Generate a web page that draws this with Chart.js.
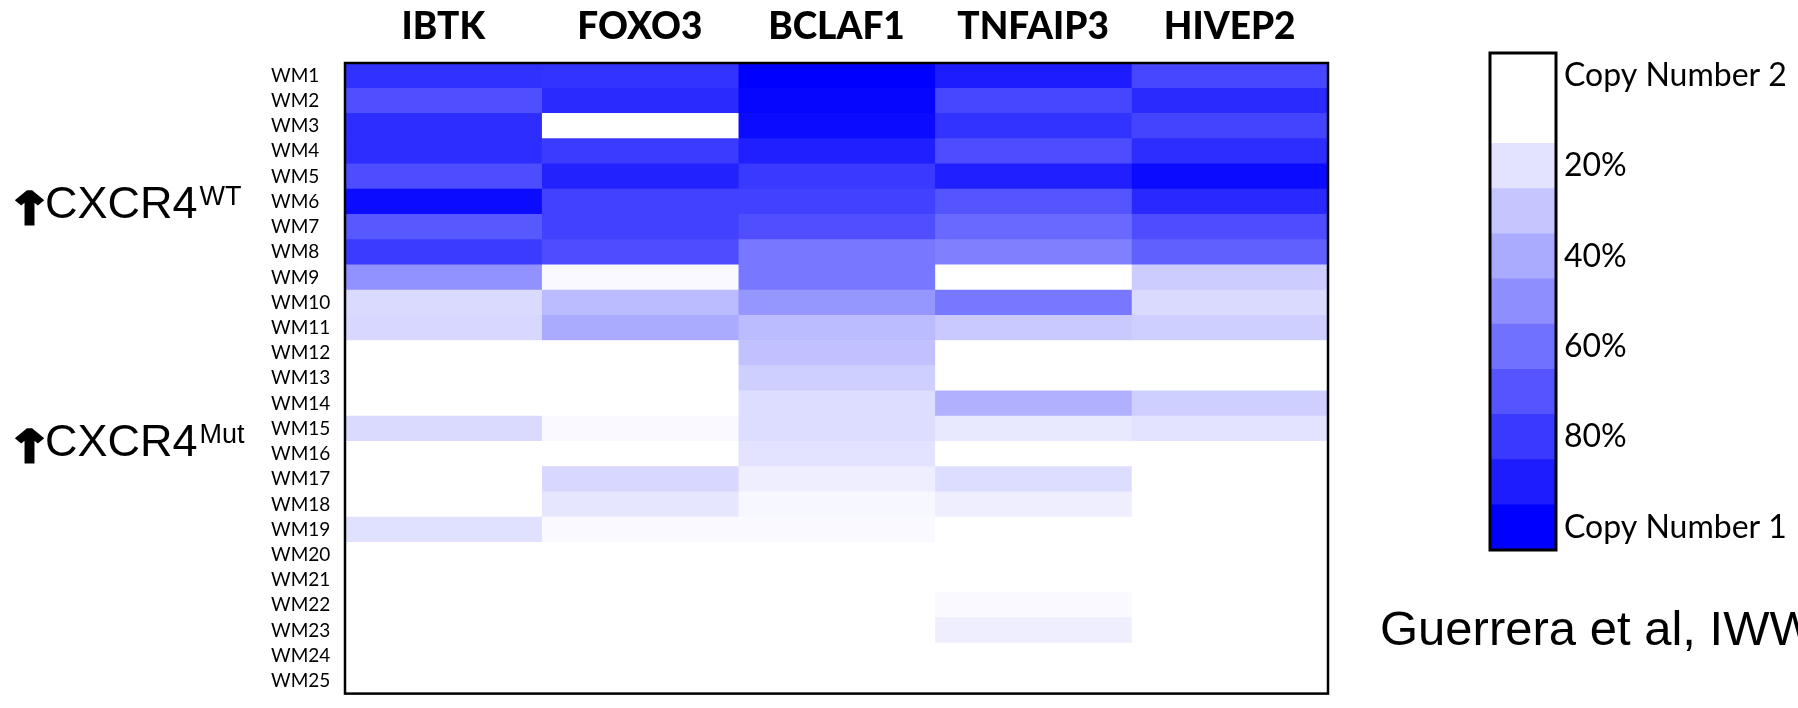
<!DOCTYPE html>
<html>
<head>
<meta charset="utf-8">
<title>Copy number loss heatmap</title>
<script src="https://cdn.jsdelivr.net/npm/chart.js@4.4.0/dist/chart.umd.min.js"></script>
<style>
  html, body { margin: 0; padding: 0; background: #ffffff; }
  #wrap { position: relative; width: 1798px; height: 708px; overflow: hidden; }
  #heat { position: absolute; left: 0; top: 0; }
  #scale { position: absolute; left: 1340px; top: 0; }
</style>
</head>
<body>
<div id="wrap">
  <canvas id="heat" width="1340" height="708"></canvas>
  <canvas id="scale" width="458" height="708"></canvas>
</div>
<script>
// Samples (rows) and genes (columns)
const samples = ['WM1','WM2','WM3','WM4','WM5','WM6','WM7','WM8','WM9','WM10','WM11','WM12','WM13',
                 'WM14','WM15','WM16','WM17','WM18','WM19','WM20','WM21','WM22','WM23','WM24','WM25'];
const genes = ['IBTK', 'FOXO3', 'BCLAF1', 'TNFAIP3', 'HIVEP2'];

// Percent of cells with loss (copy number 2 -> 1), one value per sample
const ibtk    = [83, 72, 84, 84, 73, 96, 69, 79, 49, 23, 24, 0, 0, 0, 23, 0, 0, 0, 21, 0, 0, 0, 0, 0, 0];
const foxo3   = [82, 85, 0, 79, 88, 77, 77, 73, 12, 34, 40, 0, 0, 0, 12, 0, 24, 19, 12, 0, 0, 0, 0, 0, 0];
const bclaf1  = [100, 98, 96, 89, 80, 77, 72, 58, 58, 47, 34, 32, 27, 22, 22, 20, 16, 13, 12, 0, 0, 0, 0, 0, 0];
const tnfaip3 = [90, 75, 82, 73, 89, 70, 63, 55, 0, 58, 29, 0, 0, 38, 18, 0, 22, 16, 0, 0, 0, 12, 16, 0, 0];
const hivep2  = [75, 85, 76, 84, 96, 86, 73, 66, 28, 23, 27, 0, 0, 27, 20, 0, 0, 0, 0, 0, 0, 0, 0, 0, 0];
const geneValues = [ibtk, foxo3, bclaf1, tnfaip3, hivep2];

// Colour-scale steps and their labels (top to bottom)
const scaleLevels = [0, 10, 20, 30, 40, 50, 60, 70, 80, 90, 100];
const scaleLabels = ['Copy Number 2', '', '20%', '', '40%', '', '60%', '', '80%', '', 'Copy Number 1'];

// Sample groups shown at the left
const groups = [
  { name: 'CXCR4', sup: 'WT',  row: 5 },
  { name: 'CXCR4', sup: 'Mut', row: 14.45 }
];

const citation = 'Guerrera et al, IWW';

// white (no loss) -> pure blue (full loss)
function shade(p) {
  const t = p <= 10 ? 0 : Math.min(1, (p - 10) / 90);
  const v = Math.round(255 * (1 - t));
  return 'rgb(' + v + ',' + v + ',255)';
}

const frame = (width) => ({
  id: 'frame',
  afterDatasetsDraw(chart) {
    const a = chart.chartArea, ctx = chart.ctx;
    ctx.save();
    ctx.strokeStyle = '#000';
    ctx.lineWidth = width;
    ctx.strokeRect(a.left, a.top, a.right - a.left, a.bottom - a.top);
    ctx.restore();
  }
});

const groupLabels = {
  id: 'groupLabels',
  afterDraw(chart) {
    const ctx = chart.ctx, y = chart.scales.y;
    ctx.save();
    ctx.fillStyle = '#000';
    ctx.strokeStyle = '#000';
    ctx.textBaseline = 'alphabetic';
    ctx.textAlign = 'left';
    groups.forEach(g => {
      const yc = y.getPixelForValue(g.row);
      const base = yc + 16;
      // heavy up-arrow, slightly widened
      ctx.save();
      ctx.translate(7, base + 6);
      ctx.scale(1.22, 1);
      ctx.font = 'bold 44px "DejaVu Sans"';
      ctx.lineWidth = 3;
      ctx.fillText('\u2191', 0, 0);
      ctx.strokeText('\u2191', 0, 0);
      ctx.restore();
      ctx.font = '45px "Liberation Sans"';
      ctx.fillText(g.name, 45, base);
      const w = ctx.measureText(g.name).width;
      ctx.font = '27px "Liberation Sans"';
      ctx.fillText(g.sup, 45 + w + 2, base - 13);
    });
    ctx.restore();
  }
};

new Chart(document.getElementById('heat'), {
  type: 'bar',
  data: {
    labels: samples,
    datasets: genes.map((g, i) => ({
      label: g,
      data: samples.map(() => 1),
      backgroundColor: geneValues[i].map(shade),
      borderWidth: 0,
      barPercentage: 1,
      categoryPercentage: 1
    }))
  },
  options: {
    indexAxis: 'y',
    responsive: false,
    animation: false,
    devicePixelRatio: 1,
    layout: { padding: { left: 271, right: 12, top: 0, bottom: 8 } },
    plugins: { legend: { display: false }, tooltip: { enabled: false } },
    scales: {
      x: { type: 'linear', stacked: true, min: 0, max: genes.length, display: false },
      xTop: {
        type: 'category', axis: 'x', position: 'top', labels: genes, offset: true,
        grid: { display: false, drawTicks: false }, border: { display: false },
        ticks: { color: '#000', padding: 14, font: { family: 'Lato', weight: 900, size: 37 } },
        afterFit(s) { s.height = 63; }
      },
      y: {
        type: 'category', stacked: true, position: 'left',
        grid: { display: false, drawTicks: false }, border: { display: false },
        ticks: { color: '#000', crossAlign: 'far', autoSkip: false, font: { family: 'Lato', size: 19 } },
        afterFit(s) { s.width = 74; }
      }
    }
  },
  plugins: [frame(2.5), groupLabels]
});

const citationText = {
  id: 'citationText',
  afterDraw(chart) {
    const ctx = chart.ctx, a = chart.chartArea;
    ctx.save();
    ctx.fillStyle = '#000';
    ctx.font = '49px "Liberation Sans"';
    ctx.textAlign = 'left';
    ctx.textBaseline = 'alphabetic';
    ctx.fillText(citation, a.left - 110, a.bottom + 95);
    ctx.restore();
  }
};

new Chart(document.getElementById('scale'), {
  type: 'bar',
  data: {
    labels: scaleLabels,
    datasets: [{
      data: scaleLevels.map(() => 1),
      backgroundColor: scaleLevels.map(shade),
      borderWidth: 0,
      barPercentage: 1,
      categoryPercentage: 1
    }]
  },
  options: {
    indexAxis: 'y',
    responsive: false,
    animation: false,
    devicePixelRatio: 1,
    layout: { padding: { left: 150, right: 0, top: 53, bottom: 158 } },
    plugins: { legend: { display: false }, tooltip: { enabled: false } },
    scales: {
      x: { type: 'linear', min: 0, max: 1, display: false },
      y: {
        type: 'category', position: 'right',
        grid: { display: false, drawTicks: false }, border: { display: false },
        ticks: { color: '#000', padding: 8, autoSkip: false, font: { family: 'Lato', size: 32 } },
        afterFit(s) { s.width = 242; }
      }
    }
  },
  plugins: [frame(3), citationText]
});
</script>
</body>
</html>
